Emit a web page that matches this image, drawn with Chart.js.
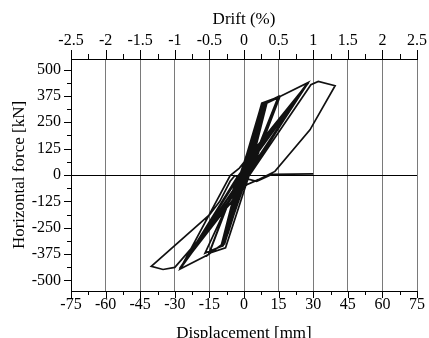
<!DOCTYPE html>
<html>
<head>
<meta charset="utf-8">
<script src="https://cdn.jsdelivr.net/npm/chart.js@4/dist/chart.umd.min.js"></script>
<style>
  html, body { margin: 0; padding: 0; background: #fff; }
  canvas { display: block; }
</style>
</head>
<body>
<canvas id="chart" width="429" height="338"></canvas>
<script>
(() => {
  "use strict";

  // displacement [mm] / horizontal force [kN]
  const dispMm = [
    0, 2, 0, -2, 0, 4, 0.5, -4, -0.5, 6, 0.5, -6, -0.5, 8, 1, -8, -1,
    9, 1, -9, -1.5, 9.5, 1.5, -9.5, -1.5,
    8.5, 0, -8.5, 0.5, 9, 2, -9, -2, 10, 3, -10, -3, 7, -1, -7, 1, 8, 2.5, -8.5, -2.5,
    5, 0.5, -5, -0.5, 7.5, 1.5, -7.5, -1.5, 6.5, 3, -6.5, -3, 9.5, 4, -9.5, -4, 8, 2, -8, -2,
    7.7, 15.6, 4, -1, -9.7, -15.4, -3, 2, 8.4, 15, 3, -8, -15, -3, 1.5, 9.1, 14.9, 2.5, -9, -16.9, -2,
    7.7, 15.6, 27.9, 2, -9.7, -15.4, -27.7, -6, -2, 27.9, 2, -27.7, -3, 27.5, 3, -27.5, -2,
    4, 27.8, 1, -4.5, -27.9, -1.5, 3, 28, 5, -3, -28, -5,
    29, 32.2, 39.5, 28.6, 13.4, 6.2, 1.2, -30, -35.1, -40.2, -14.9, -10.5, -6, -4, 5.5, 12, 30
  ];
  const forceKn = [
    0, 70, 5, -70, -5, 150, 10, -150, -10, 230, 15, -225, -15, 300, 20, -295, -20,
    335, 15, -330, -20, 340, 20, -335, -25,
    320, 0, -320, 5, 330, 30, -325, -30, 345, 40, -340, -40, 290, 0, -280, 0, 335, 60, -330, -60,
    190, 0, -190, 0, 280, 30, -280, -30, 270, 120, -260, -110, 345, 140, -340, -130, 320, 40, -310, -40,
    341, 372, 40, -10, -330, -377, -20, 15, 333, 368, 25, -345, -370, -25, 10, 341, 372, 30, -335, -370, -20,
    338, 372, 439, 10, -330, -377, -446, -3, 33, 439, 5, -446, -10, 436, 15, -440, -5,
    80, 437, 0, -90, -444, -20, 60, 438, 120, -50, -445, -120,
    428, 444, 423, 214, 17, -22, -46, -438, -448, -433, -188, -125, -30, -3, -30, 3, 5
  ];

  const xTicks = [-75, -60, -45, -30, -15, 0, 15, 30, 45, 60, 75];
  const driftTicks = [-2.5, -2, -1.5, -1, -0.5, 0, 0.5, 1, 1.5, 2, 2.5];
  const yTicks = [-500, -375, -250, -125, 0, 125, 250, 375, 500];

  const FONT = "'Liberation Serif', 'Times New Roman', serif";

  const points = dispMm.map((x, i) => ({ x, y: forceKn[i] }));

  function setTicks(values) {
    return (scale) => { scale.ticks = values.map((v) => ({ value: v })); };
  }

  // outward major + minor tick marks, drawn from the scales themselves
  const tickMarks = {
    id: "tickMarks",
    afterDraw(chart) {
      const { ctx, chartArea, scales } = chart;
      ctx.save();
      ctx.strokeStyle = "#000";
      ctx.lineWidth = 1;
      ctx.beginPath();

      const mark = (scale, values, edge, dir, majorLen, minorLen, horizontal) => {
        const all = [];
        values.forEach((v, i) => {
          all.push([v, majorLen]);
          if (i < values.length - 1) all.push([(v + values[i + 1]) / 2, minorLen]);
        });
        all.forEach(([v, len]) => {
          const p = Math.round(scale.getPixelForValue(v)) + 0.5;
          if (horizontal) {
            ctx.moveTo(p, edge);
            ctx.lineTo(p, edge + dir * len);
          } else {
            ctx.moveTo(edge, p);
            ctx.lineTo(edge + dir * len, p);
          }
        });
      };

      mark(scales.x, xTicks, chartArea.bottom, 1, 7, 4, true);
      mark(scales.x2, driftTicks, chartArea.top, -1, 9, 5, true);
      mark(scales.y, yTicks, chartArea.left, -1, 7, 4, false);
      ctx.stroke();
      ctx.restore();
    },
  };

  Chart.defaults.font.family = FONT;
  Chart.defaults.color = "#000";

  const plain = (v) => String(v);

  new Chart(document.getElementById("chart"), {
    type: "scatter",
    data: {
      datasets: [{
        data: points,
        showLine: true,
        borderColor: "#111",
        borderWidth: 1.7,
        pointRadius: 0,
        tension: 0,
        xAxisID: "x",
        yAxisID: "y",
      }],
    },
    options: {
      responsive: false,
      animation: false,
      events: [],
      layout: { padding: { left: 0, right: 12, top: 0, bottom: 0 } },
      plugins: { legend: { display: false }, tooltip: { enabled: false } },
      scales: {
        x: {
          type: "linear",
          position: "bottom",
          min: -75,
          max: 75,
          afterBuildTicks: setTicks(xTicks),
          afterFit: (s) => { s.height = 47; s.paddingLeft = 0; s.paddingRight = 0; },
          ticks: { font: { size: 16 }, padding: 4, maxRotation: 0, autoSkip: false, callback: plain },
          grid: { color: "#7a7a7a", lineWidth: 1, drawTicks: false },
          border: { color: "#000", width: 1 },
          title: {
            display: true,
            text: "Displacement [mm]",
            font: { size: 17 },
            padding: { top: 0, bottom: -6 },
          },
        },
        x2: {
          type: "linear",
          position: "top",
          min: -2.5,
          max: 2.5,
          afterBuildTicks: setTicks(driftTicks),
          afterFit: (s) => { s.height = 59; s.paddingLeft = 0; s.paddingRight = 0; },
          ticks: { font: { size: 16 }, padding: 9, maxRotation: 0, autoSkip: false, callback: plain },
          grid: { display: false, drawTicks: false },
          border: { color: "#000", width: 1 },
          title: {
            display: true,
            text: "Drift (%)",
            font: { size: 17 },
            padding: { top: 9, bottom: 0 },
          },
        },
        y: {
          type: "linear",
          position: "left",
          min: -550,
          max: 550,
          afterBuildTicks: setTicks(yTicks),
          afterFit: (s) => { s.width = 71; },
          ticks: { font: { size: 16 }, padding: 10, autoSkip: false, callback: plain },
          grid: {
            drawTicks: false,
            color: (ctx) => (ctx.tick && ctx.tick.value === 0 ? "#000" : "rgba(0,0,0,0)"),
          },
          border: { color: "#000", width: 1 },
          title: {
            display: true,
            text: "Horizontal force [kN]",
            font: { size: 17 },
            padding: { top: 9, bottom: 0 },
          },
        },
      },
    },
    plugins: [tickMarks],
  });
})();
</script>
</body>
</html>
